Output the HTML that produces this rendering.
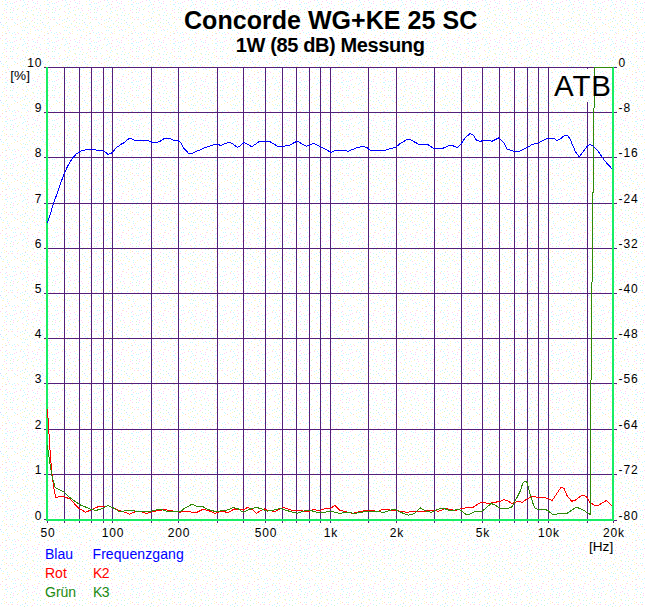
<!DOCTYPE html><html><head><meta charset="utf-8"><style>
html,body{margin:0;padding:0;width:645px;height:607px;overflow:hidden;background:#fff}
svg{display:block}text{font-family:"Liberation Sans",sans-serif}
</style></head><body>
<svg width="645" height="607" viewBox="0 0 645 607">
<defs><pattern id="dots" width="42" height="39" patternUnits="userSpaceOnUse" shape-rendering="crispEdges"><rect x="2" y="1" width="1" height="1" fill="#fff8c4"/><rect x="5" y="0" width="1" height="1" fill="#c4f8ff"/><rect x="7" y="2" width="1" height="1" fill="#ffd0f4"/><rect x="9" y="1" width="1" height="1" fill="#fff8c4"/><rect x="14" y="2" width="1" height="1" fill="#ffd0f4"/><rect x="16" y="1" width="1" height="1" fill="#ffd0f4"/><rect x="20" y="0" width="1" height="1" fill="#ffd0f4"/><rect x="23" y="0" width="1" height="1" fill="#c4f8ff"/><rect x="24" y="2" width="1" height="1" fill="#c4f8ff"/><rect x="28" y="1" width="1" height="1" fill="#ffd0f4"/><rect x="32" y="0" width="1" height="1" fill="#ffd0f4"/><rect x="33" y="2" width="1" height="1" fill="#c4f8ff"/><rect x="37" y="1" width="1" height="1" fill="#ffd0f4"/><rect x="2" y="4" width="1" height="1" fill="#fff8c4"/><rect x="5" y="4" width="1" height="1" fill="#c4f8ff"/><rect x="6" y="4" width="1" height="1" fill="#c4f8ff"/><rect x="10" y="3" width="1" height="1" fill="#c4f8ff"/><rect x="12" y="3" width="1" height="1" fill="#c4f8ff"/><rect x="19" y="5" width="1" height="1" fill="#fff8c4"/><rect x="23" y="5" width="1" height="1" fill="#c4f8ff"/><rect x="25" y="4" width="1" height="1" fill="#c4f8ff"/><rect x="27" y="4" width="1" height="1" fill="#ffd4c4"/><rect x="35" y="3" width="1" height="1" fill="#c4f8ff"/><rect x="37" y="3" width="1" height="1" fill="#ffd0f4"/><rect x="40" y="5" width="1" height="1" fill="#c4f8ff"/><rect x="4" y="8" width="1" height="1" fill="#fff8c4"/><rect x="7" y="6" width="1" height="1" fill="#c4f8ff"/><rect x="11" y="7" width="1" height="1" fill="#c4f8ff"/><rect x="13" y="8" width="1" height="1" fill="#ffd0f4"/><rect x="15" y="6" width="1" height="1" fill="#c4f8ff"/><rect x="18" y="8" width="1" height="1" fill="#fff8c4"/><rect x="22" y="6" width="1" height="1" fill="#c4f8ff"/><rect x="26" y="8" width="1" height="1" fill="#c4f8ff"/><rect x="28" y="7" width="1" height="1" fill="#ffd0f4"/><rect x="32" y="7" width="1" height="1" fill="#ffd0f4"/><rect x="34" y="6" width="1" height="1" fill="#ffd0f4"/><rect x="36" y="8" width="1" height="1" fill="#c4f8ff"/><rect x="39" y="8" width="1" height="1" fill="#ffd0f4"/><rect x="4" y="10" width="1" height="1" fill="#ffd0f4"/><rect x="6" y="9" width="1" height="1" fill="#c4f8ff"/><rect x="10" y="9" width="1" height="1" fill="#d0f7c8"/><rect x="13" y="10" width="1" height="1" fill="#ffd0f4"/><rect x="17" y="9" width="1" height="1" fill="#d0f7c8"/><rect x="22" y="11" width="1" height="1" fill="#ffd0f4"/><rect x="26" y="9" width="1" height="1" fill="#fff8c4"/><rect x="27" y="11" width="1" height="1" fill="#c4f8ff"/><rect x="31" y="10" width="1" height="1" fill="#c4f8ff"/><rect x="33" y="10" width="1" height="1" fill="#fff8c4"/><rect x="36" y="9" width="1" height="1" fill="#fff8c4"/><rect x="40" y="10" width="1" height="1" fill="#ffd0f4"/><rect x="2" y="14" width="1" height="1" fill="#c4f8ff"/><rect x="3" y="13" width="1" height="1" fill="#fff8c4"/><rect x="6" y="12" width="1" height="1" fill="#ffd0f4"/><rect x="10" y="12" width="1" height="1" fill="#d0f7c8"/><rect x="12" y="12" width="1" height="1" fill="#c4f8ff"/><rect x="16" y="14" width="1" height="1" fill="#c4f8ff"/><rect x="23" y="12" width="1" height="1" fill="#fff8c4"/><rect x="26" y="13" width="1" height="1" fill="#c4f8ff"/><rect x="28" y="12" width="1" height="1" fill="#fff8c4"/><rect x="32" y="14" width="1" height="1" fill="#fff8c4"/><rect x="33" y="14" width="1" height="1" fill="#c4f8ff"/><rect x="38" y="12" width="1" height="1" fill="#c4f8ff"/><rect x="41" y="13" width="1" height="1" fill="#fff8c4"/><rect x="4" y="16" width="1" height="1" fill="#fff8c4"/><rect x="6" y="17" width="1" height="1" fill="#ffd4c4"/><rect x="10" y="17" width="1" height="1" fill="#c4f8ff"/><rect x="12" y="17" width="1" height="1" fill="#c4f8ff"/><rect x="17" y="17" width="1" height="1" fill="#fff8c4"/><rect x="18" y="16" width="1" height="1" fill="#fff8c4"/><rect x="23" y="15" width="1" height="1" fill="#fff8c4"/><rect x="25" y="17" width="1" height="1" fill="#fff8c4"/><rect x="27" y="16" width="1" height="1" fill="#fff8c4"/><rect x="30" y="17" width="1" height="1" fill="#fff8c4"/><rect x="33" y="15" width="1" height="1" fill="#fff8c4"/><rect x="37" y="15" width="1" height="1" fill="#c4f8ff"/><rect x="40" y="15" width="1" height="1" fill="#d0f7c8"/><rect x="1" y="18" width="1" height="1" fill="#c4f8ff"/><rect x="4" y="18" width="1" height="1" fill="#fff8c4"/><rect x="8" y="19" width="1" height="1" fill="#ffd0f4"/><rect x="11" y="19" width="1" height="1" fill="#fff8c4"/><rect x="12" y="19" width="1" height="1" fill="#ffd0f4"/><rect x="17" y="19" width="1" height="1" fill="#ffd0f4"/><rect x="20" y="20" width="1" height="1" fill="#c4f8ff"/><rect x="22" y="19" width="1" height="1" fill="#c4f8ff"/><rect x="25" y="18" width="1" height="1" fill="#ccd4ff"/><rect x="27" y="20" width="1" height="1" fill="#c4f8ff"/><rect x="32" y="20" width="1" height="1" fill="#ffd0f4"/><rect x="34" y="18" width="1" height="1" fill="#ffd0f4"/><rect x="37" y="19" width="1" height="1" fill="#c4f8ff"/><rect x="40" y="20" width="1" height="1" fill="#d0f7c8"/><rect x="0" y="22" width="1" height="1" fill="#ccd4ff"/><rect x="5" y="23" width="1" height="1" fill="#fff8c4"/><rect x="6" y="22" width="1" height="1" fill="#d0f7c8"/><rect x="14" y="22" width="1" height="1" fill="#c4f8ff"/><rect x="15" y="23" width="1" height="1" fill="#c4f8ff"/><rect x="20" y="23" width="1" height="1" fill="#fff8c4"/><rect x="22" y="22" width="1" height="1" fill="#fff8c4"/><rect x="24" y="21" width="1" height="1" fill="#d0f7c8"/><rect x="29" y="23" width="1" height="1" fill="#c4f8ff"/><rect x="31" y="21" width="1" height="1" fill="#fff8c4"/><rect x="34" y="22" width="1" height="1" fill="#d0f7c8"/><rect x="37" y="23" width="1" height="1" fill="#c4f8ff"/><rect x="40" y="23" width="1" height="1" fill="#fff8c4"/><rect x="1" y="24" width="1" height="1" fill="#c4f8ff"/><rect x="3" y="25" width="1" height="1" fill="#c4f8ff"/><rect x="7" y="26" width="1" height="1" fill="#c4f8ff"/><rect x="11" y="26" width="1" height="1" fill="#fff8c4"/><rect x="14" y="25" width="1" height="1" fill="#fff8c4"/><rect x="17" y="24" width="1" height="1" fill="#ffd4c4"/><rect x="20" y="26" width="1" height="1" fill="#fff8c4"/><rect x="23" y="26" width="1" height="1" fill="#c4f8ff"/><rect x="26" y="25" width="1" height="1" fill="#fff8c4"/><rect x="29" y="24" width="1" height="1" fill="#fff8c4"/><rect x="32" y="26" width="1" height="1" fill="#c4f8ff"/><rect x="33" y="25" width="1" height="1" fill="#fff8c4"/><rect x="36" y="26" width="1" height="1" fill="#fff8c4"/><rect x="39" y="26" width="1" height="1" fill="#fff8c4"/><rect x="2" y="27" width="1" height="1" fill="#fff8c4"/><rect x="3" y="27" width="1" height="1" fill="#fff8c4"/><rect x="7" y="28" width="1" height="1" fill="#c4f8ff"/><rect x="9" y="28" width="1" height="1" fill="#fff8c4"/><rect x="21" y="27" width="1" height="1" fill="#fff8c4"/><rect x="25" y="27" width="1" height="1" fill="#d0f7c8"/><rect x="27" y="27" width="1" height="1" fill="#c4f8ff"/><rect x="30" y="29" width="1" height="1" fill="#fff8c4"/><rect x="34" y="27" width="1" height="1" fill="#ffd0f4"/><rect x="37" y="29" width="1" height="1" fill="#ffd0f4"/><rect x="41" y="29" width="1" height="1" fill="#c4f8ff"/><rect x="2" y="32" width="1" height="1" fill="#fff8c4"/><rect x="5" y="31" width="1" height="1" fill="#fff8c4"/><rect x="8" y="30" width="1" height="1" fill="#ffd0f4"/><rect x="9" y="32" width="1" height="1" fill="#c4f8ff"/><rect x="14" y="32" width="1" height="1" fill="#c4f8ff"/><rect x="17" y="32" width="1" height="1" fill="#fff8c4"/><rect x="22" y="30" width="1" height="1" fill="#c4f8ff"/><rect x="24" y="30" width="1" height="1" fill="#c4f8ff"/><rect x="27" y="32" width="1" height="1" fill="#c4f8ff"/><rect x="30" y="31" width="1" height="1" fill="#fff8c4"/><rect x="35" y="30" width="1" height="1" fill="#c4f8ff"/><rect x="38" y="30" width="1" height="1" fill="#c4f8ff"/><rect x="41" y="31" width="1" height="1" fill="#fff8c4"/><rect x="2" y="35" width="1" height="1" fill="#ffd4c4"/><rect x="5" y="33" width="1" height="1" fill="#c4f8ff"/><rect x="6" y="33" width="1" height="1" fill="#ffd4c4"/><rect x="11" y="35" width="1" height="1" fill="#fff8c4"/><rect x="12" y="33" width="1" height="1" fill="#c4f8ff"/><rect x="15" y="34" width="1" height="1" fill="#ffd0f4"/><rect x="18" y="33" width="1" height="1" fill="#ffd0f4"/><rect x="21" y="34" width="1" height="1" fill="#fff8c4"/><rect x="26" y="34" width="1" height="1" fill="#fff8c4"/><rect x="28" y="33" width="1" height="1" fill="#ffd0f4"/><rect x="30" y="33" width="1" height="1" fill="#fff8c4"/><rect x="35" y="34" width="1" height="1" fill="#fff8c4"/><rect x="39" y="35" width="1" height="1" fill="#c4f8ff"/><rect x="0" y="38" width="1" height="1" fill="#ffd0f4"/><rect x="6" y="38" width="1" height="1" fill="#ffd0f4"/><rect x="13" y="37" width="1" height="1" fill="#c4f8ff"/><rect x="15" y="37" width="1" height="1" fill="#c4f8ff"/><rect x="20" y="38" width="1" height="1" fill="#fff8c4"/><rect x="21" y="37" width="1" height="1" fill="#c4f8ff"/><rect x="24" y="37" width="1" height="1" fill="#fff8c4"/><rect x="27" y="37" width="1" height="1" fill="#ffd0f4"/><rect x="34" y="38" width="1" height="1" fill="#fff8c4"/><rect x="38" y="37" width="1" height="1" fill="#ffd0f4"/><rect x="39" y="37" width="1" height="1" fill="#fff8c4"/></pattern></defs>
<rect width="645" height="607" fill="#fff"/>
<rect width="645" height="607" fill="url(#dots)"/>
<g fill="#54207a" shape-rendering="crispEdges">
<rect x="44" y="67" width="573" height="1"/>
<rect x="44" y="112" width="573" height="1"/>
<rect x="44" y="157" width="573" height="1"/>
<rect x="44" y="203" width="573" height="1"/>
<rect x="44" y="248" width="573" height="1"/>
<rect x="44" y="293" width="573" height="1"/>
<rect x="44" y="338" width="573" height="1"/>
<rect x="44" y="383" width="573" height="1"/>
<rect x="44" y="429" width="573" height="1"/>
<rect x="44" y="474" width="573" height="1"/>
<rect x="44" y="519" width="2" height="1"/><rect x="614" y="520" width="3" height="1"/>
<rect x="47" y="67" width="1" height="456"/>
<rect x="64" y="67" width="1" height="456"/>
<rect x="79" y="67" width="1" height="456"/>
<rect x="91" y="67" width="1" height="456"/>
<rect x="103" y="67" width="1" height="456"/>
<rect x="112" y="67" width="1" height="456"/>
<rect x="151" y="67" width="1" height="456"/>
<rect x="178" y="67" width="1" height="456"/>
<rect x="217" y="67" width="1" height="456"/>
<rect x="243" y="67" width="1" height="456"/>
<rect x="265" y="67" width="1" height="456"/>
<rect x="282" y="67" width="1" height="456"/>
<rect x="296" y="67" width="1" height="456"/>
<rect x="309" y="67" width="1" height="456"/>
<rect x="320" y="67" width="1" height="456"/>
<rect x="330" y="67" width="1" height="456"/>
<rect x="368" y="67" width="1" height="456"/>
<rect x="396" y="67" width="1" height="456"/>
<rect x="434" y="67" width="1" height="456"/>
<rect x="461" y="67" width="1" height="456"/>
<rect x="482" y="67" width="1" height="456"/>
<rect x="499" y="67" width="1" height="456"/>
<rect x="514" y="67" width="1" height="456"/>
<rect x="527" y="67" width="1" height="456"/>
<rect x="538" y="67" width="1" height="456"/>
<rect x="548" y="67" width="1" height="456"/>
<rect x="587" y="67" width="1" height="456"/>
<rect x="613" y="67" width="1" height="456"/>
</g>
<rect x="550" y="69" width="61" height="33" fill="#fff" shape-rendering="crispEdges"/>
<rect x="550" y="69" width="61" height="33" fill="url(#dots)" shape-rendering="crispEdges"/>
<g fill="#18ee64" shape-rendering="crispEdges"><rect x="46" y="67" width="2" height="454"/><rect x="612" y="67" width="2" height="454"/><rect x="46" y="519" width="568" height="2"/></g>
<g fill="none" stroke-width="1" shape-rendering="crispEdges" stroke-linejoin="round">
<polyline points="47.5,409.0 47.5,418.0 48.5,418.0 48.5,434.0 49.5,434.0 49.5,450.0 50.5,450.0 50.5,463.0 51.5,463.0 51.5,470.0 52.6,479.5 53.9,488.7 55.6,497.3 63.8,496.4 70.4,499.3 78.3,507.9 85.5,512.2 91.4,509.8 96.7,507.2 100.0,506.4 104.3,506.8 108.1,505.5 114.9,508.6 121.1,511.1 125.4,512.4 129.8,514.2 134.1,512.1 137.2,511.4 140.9,511.7 146.5,513.4 150.9,512.1 156.5,510.9 164.5,509.6 169.5,510.5 180.0,512.1 187.4,511.4 193.6,512.4 197.4,512.1 203.0,509.3 208.5,510.5 214.7,513.4 220.9,511.4 228.4,512.4 234.6,508.9 240.2,509.6 243.3,510.1 247.6,507.4 252.0,509.3 256.3,513.4 260.0,511.1 264.3,508.9 267.4,510.5 275.5,511.4 283.0,507.4 292.3,510.5 300.9,510.5 307.1,512.1 313.3,509.6 319.6,510.5 324.5,508.9 330.7,508.0 335.1,505.5 340.0,510.5 345.0,511.4 352.4,513.4 364.8,510.5 371.0,510.5 378.5,511.4 382.2,509.3 387.8,509.6 393.3,510.5 399.6,511.1 407.0,512.4 414.4,511.1 420.0,511.3 424.3,512.0 427.4,510.4 433.6,510.4 438.6,511.3 446.1,508.3 451.0,509.8 456.0,510.4 461.0,508.6 467.1,507.6 473.3,507.1 480.8,502.4 489.5,503.4 493.2,502.4 500.0,501.6 504.2,499.6 507.4,500.7 512.1,503.5 515.3,502.1 519.5,501.4 522.3,502.6 527.0,498.8 531.6,496.8 535.8,497.0 540.9,497.9 544.7,497.4 550.2,499.6 552.1,500.7 555.8,495.1 558.0,491.7 561.0,487.3 564.1,488.6 567.1,495.7 571.6,501.3 575.2,500.2 582.2,495.2 586.3,496.4 589.8,502.3 594.8,505.3 598.3,505.3 606.4,500.4 612.5,506.3" stroke="#ff0000"/>
<polyline points="47.3,445.3 49.9,463.7 51.9,475.6 55.2,487.4 63.8,492.0 70.4,498.0 79.6,504.6 90.8,509.2 96.0,510.5 104.0,507.9 107.4,505.5 113.6,508.0 119.9,512.1 126.1,510.5 132.9,510.5 136.0,511.4 149.6,511.7 157.1,509.6 162.0,509.6 167.0,511.4 172.0,511.1 180.0,511.8 185.0,508.0 191.8,504.3 197.4,506.4 203.0,506.8 208.5,509.6 216.0,511.7 222.2,510.5 227.1,510.1 233.3,507.4 238.3,508.9 243.3,512.4 250.7,508.9 256.3,507.4 260.0,508.4 267.4,511.1 272.4,510.5 279.9,508.4 286.7,510.5 297.2,513.4 303.4,511.1 309.6,510.1 317.1,512.4 324.5,512.4 330.7,511.1 340.0,513.4 346.2,512.1 354.9,513.4 361.1,512.1 368.5,511.7 384.7,512.1 392.1,509.6 395.8,509.6 400.8,512.4 408.2,515.1 414.4,513.6 420.0,507.8 426.2,511.1 431.2,512.3 434.9,510.4 441.1,508.3 446.7,509.2 451.0,511.1 456.0,509.6 459.7,509.6 465.9,514.4 469.6,514.4 475.8,511.3 480.8,512.0 484.5,509.2 491.3,503.4 495.7,505.5 500.0,508.1 508.4,508.1 511.6,507.2 514.9,501.6 520.5,490.5 522.8,483.0 525.6,481.2 527.4,483.0 528.8,489.5 530.7,496.0 533.0,503.5 534.9,508.1 538.1,509.5 545.6,509.5 548.4,510.9 552.1,514.2 556.7,514.2 560.0,513.3 567.1,513.3 576.2,507.3 580.2,508.5 585.2,511.3 588.5,513.5 590.5,514.5 590.5,430.0 592.5,235.0 594.5,67.5 612.5,67.5" stroke="#2f8a08"/>
<polyline points="47.3,223.0 50.7,212.6 54.4,200.8 58.1,191.1 61.8,180.0 64.0,174.1 67.7,166.0 72.2,158.5 76.6,153.6 81.8,150.7 83.7,150.5 88.1,149.2 94.3,149.5 96.1,150.2 103.6,150.5 107.9,154.4 112.5,152.6 116.0,148.0 121.6,143.9 124.7,142.4 129.0,138.4 131.5,138.7 134.6,140.5 148.2,140.5 152.0,142.2 156.3,142.4 160.0,141.4 164.3,138.4 169.9,138.4 173.0,140.1 178.0,140.5 181.1,143.0 183.6,148.0 188.5,153.3 192.3,153.3 197.2,151.1 203.4,148.3 209.6,146.3 214.0,144.5 218.3,144.5 220.8,145.5 228.2,142.4 230.7,142.6 237.5,147.3 240.0,145.8 244.3,142.4 251.8,146.7 259.9,141.1 269.2,141.1 277.2,146.1 284.0,146.3 290.2,144.9 297.1,141.1 306.4,146.3 313.8,143.4 320.0,146.3 328.7,151.1 331.2,152.3 335.5,150.4 344.8,150.4 347.9,151.3 357.2,147.6 362.8,146.3 366.5,147.3 370.2,150.4 384.5,150.4 390.1,148.6 395.7,147.3 400.0,143.7 407.4,139.3 411.2,140.1 418.6,144.2 427.3,144.2 432.9,148.0 442.8,148.3 450.2,145.1 454.6,146.3 457.1,147.6 461.4,143.6 464.5,138.6 470.1,133.4 473.8,135.5 476.3,140.1 480.0,141.5 483.1,140.5 489.9,140.5 491.8,141.4 498.6,138.0 503.6,142.4 507.3,149.2 513.5,151.1 519.7,151.3 527.8,147.3 532.1,144.5 538.3,143.0 548.2,138.0 553.8,138.0 556.9,140.5 560.0,139.3 564.6,135.3 567.6,135.6 570.1,139.1 575.2,151.2 579.2,156.8 581.7,153.7 587.3,146.2 589.8,144.4 592.8,145.7 598.3,151.4 604.4,160.3 607.4,163.8 612.5,169.4" stroke="#0000ff"/>
</g>
<text x="554" y="96" font-size="29.5" letter-spacing="0.9" fill="#000">ATB</text>
<text x="184" y="29" font-size="25" font-weight="bold" letter-spacing="0.04" fill="#000">Concorde WG+KE 25 SC</text>
<text x="235.8" y="52" font-size="20" font-weight="bold" letter-spacing="-0.38" fill="#000">1W (85 dB) Messung</text>
<g font-size="12" fill="#000" text-anchor="end" letter-spacing="0.9">
<text x="42.3" y="67">10</text>
<text x="42.3" y="112">9</text>
<text x="42.3" y="157">8</text>
<text x="42.3" y="203">7</text>
<text x="42.3" y="248">6</text>
<text x="42.3" y="293">5</text>
<text x="42.3" y="338">4</text>
<text x="42.3" y="383">3</text>
<text x="42.3" y="429">2</text>
<text x="42.3" y="474">1</text>
<text x="42.3" y="520">0</text>
</g>
<text x="10.3" y="80" font-size="13.6" fill="#000">[%]</text>
<g font-size="12" fill="#000" letter-spacing="0.9">
<text x="618.5" y="67">0</text>
<text x="618.5" y="112">-8</text>
<text x="618.5" y="157">-16</text>
<text x="618.5" y="203">-24</text>
<text x="618.5" y="248">-32</text>
<text x="618.5" y="293">-40</text>
<text x="618.5" y="338">-48</text>
<text x="618.5" y="383">-56</text>
<text x="618.5" y="429">-64</text>
<text x="618.5" y="474">-72</text>
<text x="618.5" y="520">-80</text>
</g>
<g font-size="12" fill="#000" text-anchor="middle" letter-spacing="0.9">
<text x="48.0" y="537">50</text>
<text x="113.0" y="537">100</text>
<text x="179.0" y="537">200</text>
<text x="266.0" y="537">500</text>
<text x="331.0" y="537">1k</text>
<text x="397.0" y="537">2k</text>
<text x="483.0" y="537">5k</text>
<text x="549.0" y="537">10k</text>
<text x="614.0" y="537">20k</text>
</g>
<text x="613.2" y="550.6" font-size="13.6" fill="#000" text-anchor="end">[Hz]</text>
<g font-size="14">
<text x="45" y="559" fill="#0000ff">Blau</text><text x="92.5" y="559" letter-spacing="0.08" fill="#0000ff">Frequenzgang</text>
<text x="45" y="578" fill="#ff0000">Rot</text><text x="93" y="578" letter-spacing="-0.6" fill="#ff0000">K2</text>
<text x="45" y="597" fill="#1a8a10">Grün</text><text x="93" y="597" letter-spacing="-0.6" fill="#1a8a10">K3</text>
</g>
</svg></body></html>
